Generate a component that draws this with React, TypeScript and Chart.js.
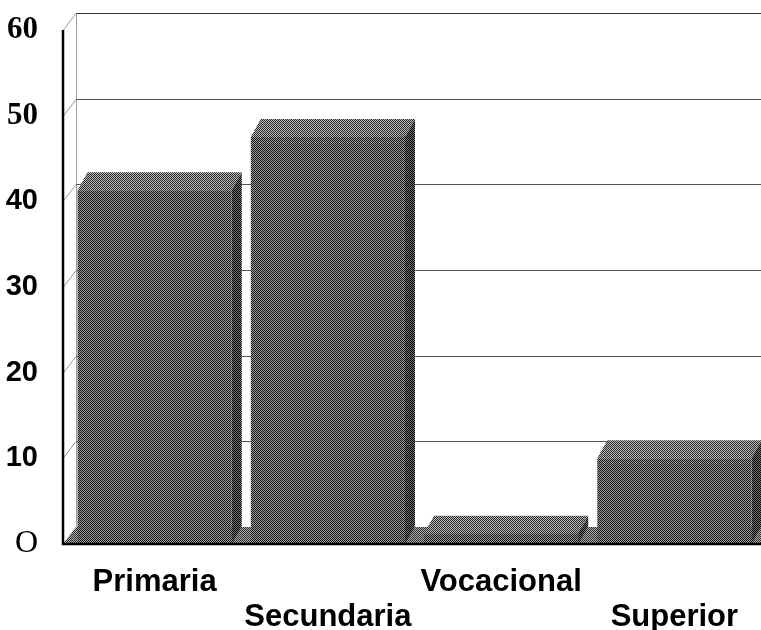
import React, { useEffect, useRef } from "react";
import { Chart, registerables } from "chart.js";

Chart.register(...registerables);

const categories = ["Primaria", "Secundaria", "Vocacional", "Superior"];
const values = [41.3, 47.5, 1.2, 10];
const yTickValues = [0, 10, 20, 30, 40, 50, 60];
const yTickLabels = ["O", "10", "20", "30", "40", "50", "60"];

const AXIS_SHIFT = -5;
const WALL_DX = 13;
const WALL_DY = -17;
const BAR_DX = 10;
const BAR_DY = -18;

function makePattern(dark: string, light: string): CanvasPattern | string {
  const c = document.createElement("canvas");
  c.width = 2;
  c.height = 2;
  const g = c.getContext("2d");
  if (!g) return dark;
  g.fillStyle = dark;
  g.fillRect(0, 0, 2, 2);
  g.fillStyle = light;
  g.fillRect(1, 0, 1, 1);
  g.fillRect(0, 1, 1, 1);
  const p = g.createPattern(c, "repeat");
  return p || dark;
}

export default function App() {
  const ref = useRef<HTMLCanvasElement | null>(null);

  useEffect(() => {
    if (!ref.current) return;
    const frontPat = makePattern("#111111", "#a0a0a0");
    const topPat = makePattern("#262626", "#bdbdbd");
    const sidePat = makePattern("#050505", "#707070");
    const floorPat = makePattern("#2a2a2a", "#b0b0b0");

    const depth3d = {
      id: "depth3d",
      beforeDatasetsDraw(chart: any) {
        const { ctx, chartArea: a } = chart;
        const y = chart.scales.y;
        const y0 = y.getPixelForValue(0);
        const ax = a.left + AXIS_SHIFT;
        ctx.save();
        ctx.lineWidth = 1;
        ctx.strokeStyle = "#a0a0a0";
        ctx.beginPath();
        ctx.moveTo(ax + WALL_DX + 0.5, y0 + WALL_DY);
        ctx.lineTo(ax + WALL_DX + 0.5, y.getPixelForValue(60) + WALL_DY);
        ctx.stroke();
        yTickValues.forEach((v) => {
          const py = Math.round(y.getPixelForValue(v)) + 0.5;
          if (v > 0) {
            ctx.strokeStyle = v === 60 ? "#333" : "#555";
            ctx.beginPath();
            ctx.moveTo(ax + WALL_DX, py + WALL_DY);
            ctx.lineTo(a.right + 20, py + WALL_DY);
            ctx.stroke();
            ctx.strokeStyle = "#999";
            ctx.beginPath();
            ctx.moveTo(ax, py);
            ctx.lineTo(ax + WALL_DX, py + WALL_DY);
            ctx.stroke();
          }
        });
        ctx.fillStyle = floorPat;
        ctx.beginPath();
        ctx.moveTo(ax, y0);
        ctx.lineTo(a.right + 20, y0);
        ctx.lineTo(a.right + 20, y0 + WALL_DY);
        ctx.lineTo(ax + WALL_DX, y0 + WALL_DY);
        ctx.closePath();
        ctx.fill();
        const meta = chart.getDatasetMeta(0);
        meta.data.forEach((bar: any) => {
          const p = bar.getProps(["x", "y", "base", "width"], true);
          const x1 = p.x - p.width / 2;
          const x2 = p.x + p.width / 2;
          ctx.fillStyle = topPat;
          ctx.beginPath();
          ctx.moveTo(x1, p.y);
          ctx.lineTo(x2, p.y);
          ctx.lineTo(x2 + BAR_DX, p.y + BAR_DY);
          ctx.lineTo(x1 + BAR_DX, p.y + BAR_DY);
          ctx.closePath();
          ctx.fill();
          ctx.fillStyle = sidePat;
          ctx.beginPath();
          ctx.moveTo(x2, p.y);
          ctx.lineTo(x2 + BAR_DX, p.y + BAR_DY);
          ctx.lineTo(x2 + BAR_DX, p.base + BAR_DY);
          ctx.lineTo(x2, p.base);
          ctx.closePath();
          ctx.fill();
        });
        ctx.restore();
      },
      afterDatasetsDraw(chart: any) {
        const { ctx, chartArea: a } = chart;
        const ax = a.left + AXIS_SHIFT;
        ctx.save();
        ctx.strokeStyle = "#000";
        ctx.lineWidth = 2.5;
        ctx.beginPath();
        ctx.moveTo(ax, a.top);
        ctx.lineTo(ax, a.bottom);
        ctx.lineTo(a.right, a.bottom);
        ctx.stroke();
        ctx.restore();
      },
    };

    const chart = new Chart(ref.current, {
      type: "bar",
      data: {
        labels: categories.map((c, i) => (i % 2 === 0 ? [c, ""] : ["", c])),
        datasets: [
          {
            data: values,
            backgroundColor: frontPat as any,
            borderWidth: 0,
            barPercentage: 0.89,
            categoryPercentage: 1,
          },
        ],
      },
      options: {
        responsive: false,
        animation: false,
        layout: { padding: { top: 30, right: 0, left: 0, bottom: 0 } },
        plugins: { legend: { display: false }, tooltip: { enabled: false } },
        scales: {
          x: {
            grid: { display: false },
            border: { display: false },
            afterFit: (s: any) => {
              s.height = 86;
              s.paddingLeft = 0;
              s.paddingRight = 0;
            },
            ticks: {
              color: "#000",
              padding: 13,
              maxRotation: 0,
              autoSkip: false,
              font: { family: "Liberation Sans", size: 31, weight: "bold", lineHeight: 1.12 },
            },
          },
          y: {
            min: 0,
            max: 60,
            grid: { display: false },
            border: { display: false },
            afterFit: (s: any) => {
              s.width = 68;
              s.paddingTop = 0;
              s.paddingBottom = 0;
            },
            afterBuildTicks: (s: any) => {
              s.ticks = yTickValues.map((v) => ({ value: v }));
            },
            ticks: {
              color: "#000",
              padding: 22,
              callback: (v: any) => yTickLabels[yTickValues.indexOf(Number(v))],
              font: (c: any) => {
                const v = c.tick ? c.tick.value : 0;
                const serif = v === 0 || v === 50 || v === 60;
                return {
                  family: serif ? "Liberation Serif" : "Liberation Sans",
                  size: serif ? (v === 0 ? 32 : 31) : 29,
                  weight: serif && v === 0 ? "normal" : "bold",
                };
              },
            },
          },
        },
      },
      plugins: [depth3d],
    } as any);
    return () => chart.destroy();
  }, []);

  return (
    <div style={{ position: "absolute", left: 0, top: 0, width: 761, height: 630, background: "#fff" }}>
      <canvas ref={ref} width={761} height={630} />
    </div>
  );
}
